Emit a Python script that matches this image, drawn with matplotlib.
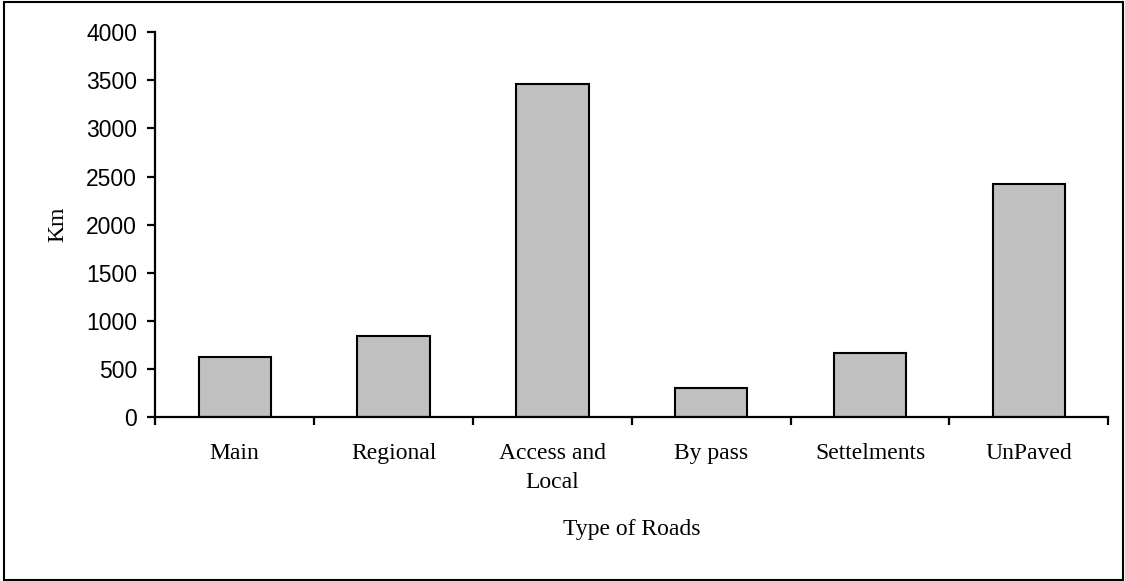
import matplotlib
matplotlib.use("Agg")
import matplotlib.pyplot as plt
from matplotlib.patches import Rectangle
import numpy as np

categories = ["Main", "Regional", "Access and\nLocal", "By pass", "Settelments", "UnPaved"]
values = [621, 839, 3459, 305, 662, 2419]
yticks = [0, 500, 1000, 1500, 2000, 2500, 3000, 3500, 4000]

W, H = 1125, 581
fig = plt.figure(figsize=(W / 100, H / 100), dpi=100)
ax = fig.add_axes([155.3 / W, (H - 417) / H, (1108.3 - 155.3) / W, (417 - 32.3) / H])

x = np.arange(len(categories))
ax.bar(x, values, width=0.455, color="#C0C0C0", edgecolor="black", linewidth=1.5, zorder=2)

ax.set_xlim(-0.5, len(categories) - 0.5)
ax.set_ylim(0, 4000)

for s in ["top", "right"]:
    ax.spines[s].set_visible(False)
for s in ["left", "bottom"]:
    ax.spines[s].set_linewidth(1.6)
    ax.spines[s].set_zorder(3)

ax.set_yticks(yticks)
ax.set_yticklabels([str(v) for v in yticks], fontfamily="Liberation Sans", fontsize=16.5)
ax.tick_params(axis="y", direction="out", length=6, width=1.6, pad=7)

ax.set_xticks(np.arange(-0.5, len(categories)), minor=False)
ax.set_xticklabels([])
ax.tick_params(axis="x", which="major", direction="out", length=5.5, width=1.6)
ax.set_xticks(x, minor=True)
ax.set_xticklabels(categories, minor=True, fontfamily="Liberation Serif", fontsize=17,
                   linespacing=1.5)
ax.tick_params(axis="x", which="minor", length=0, pad=19)

ax.set_xlabel("Type of Roads", fontfamily="Liberation Serif", fontsize=17)
ax.xaxis.set_label_coords(0.5, -0.265)
ax.set_ylabel("Km", fontfamily="Liberation Serif", fontsize=17)
ax.yaxis.set_label_coords(-0.091, 0.5)

fig.patches.append(Rectangle((4 / W, 1.5 / H), (1123 - 4) / W, (579.5 - 1.5) / H,
                             transform=fig.transFigure, fill=False, edgecolor="black",
                             linewidth=1.5))

fig.savefig("out.png", dpi=100, facecolor="white")
